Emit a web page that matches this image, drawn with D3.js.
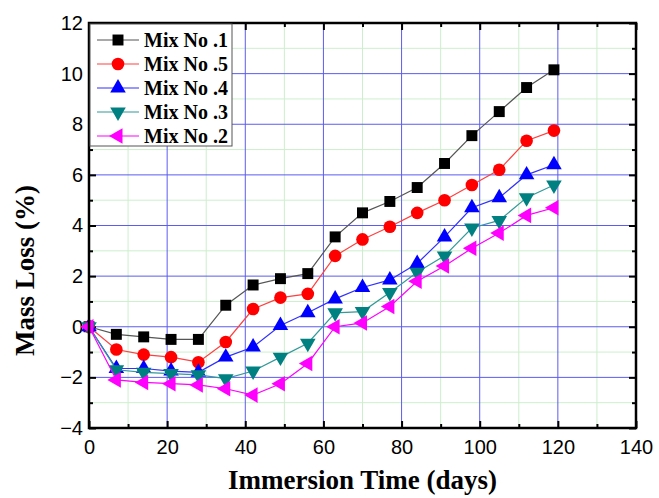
<!DOCTYPE html>
<html>
<head>
<meta charset="utf-8">
<script src="https://cdn.jsdelivr.net/npm/d3@7"></script>
<style>
  body { margin: 0; background: #fff; }
  .tick-label { font-family: "Liberation Sans", Arial, sans-serif; font-size: 20px; }
  .title { font-family: "Liberation Serif", "Times New Roman", serif; font-weight: bold; font-size: 27px; }
  .leg { font-family: "Liberation Serif", "Times New Roman", serif; font-weight: bold; font-size: 20px; }
</style>
</head>
<body>
<svg id="chart"></svg>
<script>
  // immersion days
  var days = [0, 7, 14, 21, 28, 35, 42, 49, 56, 63, 70, 77, 84, 91, 98, 105, 112, 119];
  var mix1 = [0, -0.3, -0.4, -0.5, -0.5, 0.85, 1.65, 1.9, 2.1, 3.55, 4.5, 4.95, 5.5, 6.45, 7.55, 8.5, 9.45, 10.15];
  var mix5 = [0, -0.9, -1.1, -1.2, -1.4, -0.6, 0.7, 1.15, 1.3, 2.8, 3.45, 3.95, 4.5, 5.0, 5.6, 6.2, 7.35, 7.75];
  var mix4 = [0, -1.65, -1.65, -1.75, -1.8, -1.2, -0.8, 0.05, 0.55, 1.1, 1.55, 1.85, 2.5, 3.55, 4.7, 5.1, 6.0, 6.4];
  var mix3 = [0, -1.7, -1.8, -1.85, -1.9, -2.05, -1.75, -1.2, -0.65, 0.55, 0.6, 1.35, 2.15, 2.8, 3.9, 4.2, 5.1, 5.6];
  var mix2 = [0, -2.1, -2.2, -2.25, -2.3, -2.45, -2.7, -2.25, -1.45, 0.0, 0.15, 0.8, 1.8, 2.4, 3.1, 3.7, 4.4, 4.7];

  var names = ['Mix No .1', 'Mix No .5', 'Mix No .4', 'Mix No .3', 'Mix No .2'];
  var xTicks = [0, 20, 40, 60, 80, 100, 120, 140];
  var yTicks = [-4, -2, 0, 2, 4, 6, 8, 10, 12];

  var series = [
    { name: names[0], vals: mix1, color: '#000000', line: '#555555', shape: 'square' },
    { name: names[1], vals: mix5, color: '#ff0000', line: '#ff4040', shape: 'circle' },
    { name: names[2], vals: mix4, color: '#0000ff', line: '#3030ff', shape: 'up' },
    { name: names[3], vals: mix3, color: '#008080', line: '#339999', shape: 'down' },
    { name: names[4], vals: mix2, color: '#ff00ff', line: '#ff00ff', shape: 'left' }
  ];

  var margin = { top: 23, right: 23, bottom: 70, left: 89 };
  var W = 659, H = 498;
  var width = W - margin.left - margin.right,
    height = H - margin.top - margin.bottom;

  var x = d3.scaleLinear().domain([0, 140]).range([0, width]);
  var y = d3.scaleLinear().domain([-4, 12]).range([height, 0]);

  var svg = d3.select('#chart').attr('width', W).attr('height', H)
    .append('g')
    .attr('transform', 'translate(' + margin.left + ',' + margin.top + ')');

  var minorX = d3.range(10, 140, 20), minorY = d3.range(-3, 12, 2);

  // minor grid
  svg.append('g').selectAll('line')
    .data(minorX)
    .enter().append('line')
    .attr('x1', d => x(d)).attr('x2', d => x(d))
    .attr('y1', 0).attr('y2', height)
    .attr('stroke', '#cdeecd').attr('stroke-width', 1);
  svg.append('g').selectAll('line')
    .data(minorY)
    .enter().append('line')
    .attr('y1', d => y(d)).attr('y2', d => y(d))
    .attr('x1', 0).attr('x2', width)
    .attr('stroke', '#cdeecd').attr('stroke-width', 1);

  // major grid
  svg.append('g').selectAll('line')
    .data(xTicks.slice(1, -1))
    .enter().append('line')
    .attr('x1', d => x(d)).attr('x2', d => x(d))
    .attr('y1', 0).attr('y2', height)
    .attr('stroke', '#5c5cf0').attr('stroke-width', 1);
  svg.append('g').selectAll('line')
    .data(yTicks.slice(1, -1))
    .enter().append('line')
    .attr('y1', d => y(d)).attr('y2', d => y(d))
    .attr('x1', 0).attr('x2', width)
    .attr('stroke', '#5c5cf0').attr('stroke-width', 1);

  // axes, ticks pointing inward on all four sides
  function styleAxis(g) {
    g.select('.domain').remove();
    g.selectAll('.tick line').attr('stroke', '#000').attr('stroke-width', 2);
  }

  svg.append('g').attr('transform', 'translate(0,' + height + ')')
    .call(d3.axisBottom(x).tickValues(xTicks).tickSize(-7).tickPadding(12))
    .call(styleAxis)
    .selectAll('text').attr('class', 'tick-label').attr('fill', '#000');
  svg.append('g').attr('transform', 'translate(0,' + height + ')')
    .call(d3.axisBottom(x).tickValues(minorX).tickSize(-4).tickFormat(''))
    .call(styleAxis);
  svg.append('g')
    .call(d3.axisTop(x).tickValues(xTicks).tickSize(-7).tickFormat(''))
    .call(styleAxis);
  svg.append('g')
    .call(d3.axisTop(x).tickValues(minorX).tickSize(-4).tickFormat(''))
    .call(styleAxis);

  svg.append('g')
    .call(d3.axisLeft(y).tickValues(yTicks).tickSize(-7).tickPadding(6))
    .call(styleAxis)
    .selectAll('text').attr('class', 'tick-label').attr('fill', '#000');
  svg.append('g')
    .call(d3.axisLeft(y).tickValues(minorY).tickSize(-4).tickFormat(''))
    .call(styleAxis);
  svg.append('g').attr('transform', 'translate(' + width + ',0)')
    .call(d3.axisRight(y).tickValues(yTicks).tickSize(-7).tickFormat(''))
    .call(styleAxis);
  svg.append('g').attr('transform', 'translate(' + width + ',0)')
    .call(d3.axisRight(y).tickValues(minorY).tickSize(-4).tickFormat(''))
    .call(styleAxis);

  // markers
  function symbolFor(shape) {
    if (shape === 'square') return d3.symbol().type(d3.symbolSquare).size(120)();
    if (shape === 'circle') return d3.symbol().type(d3.symbolCircle).size(125)();
    return d3.symbol().type(d3.symbolTriangle).size(105)();
  }
  function rotFor(shape) {
    if (shape === 'down') return 180;
    if (shape === 'left') return -90;
    return 0;
  }

  var line = d3.line().x(d => x(d[0])).y(d => y(d[1]));

  series.forEach(function (s) {
    var pts = days.map((d, i) => [d, s.vals[i]]);
    svg.append('path')
      .datum(pts)
      .attr('d', line)
      .attr('fill', 'none')
      .attr('stroke', s.line)
      .attr('stroke-width', 1.2);
    svg.append('g').selectAll('path')
      .data(pts)
      .enter().append('path')
      .attr('d', symbolFor(s.shape))
      .attr('transform', d => 'translate(' + x(d[0]) + ',' + y(d[1]) + ') rotate(' + rotFor(s.shape) + ')')
      .attr('fill', s.color);
  });

  // frame
  svg.append('rect')
    .attr('x', 0).attr('y', 0).attr('width', width).attr('height', height)
    .attr('fill', 'none').attr('stroke', '#000').attr('stroke-width', 2.5);

  // legend
  var leg = svg.append('g');
  leg.append('rect')
    .attr('x', 1).attr('y', 1).attr('width', 142).attr('height', 122)
    .attr('fill', '#fff').attr('stroke', '#555').attr('stroke-width', 1);
  series.forEach(function (s, i) {
    var ly = 17 + i * 24;
    leg.append('line')
      .attr('x1', 8).attr('x2', 50).attr('y1', ly).attr('y2', ly)
      .attr('stroke', s.line).attr('stroke-width', 1.2);
    leg.append('path')
      .attr('d', symbolFor(s.shape))
      .attr('transform', 'translate(29,' + ly + ') rotate(' + rotFor(s.shape) + ')')
      .attr('fill', s.color);
    leg.append('text')
      .attr('class', 'leg')
      .attr('x', 55).attr('y', ly).attr('dy', '0.35em')
      .text(s.name);
  });

  // axis titles
  svg.append('text')
    .attr('class', 'title')
    .attr('text-anchor', 'middle')
    .attr('x', width / 2).attr('y', height + 61)
    .text('Immersion Time (days)');
  svg.append('text')
    .attr('class', 'title')
    .attr('text-anchor', 'middle')
    .attr('transform', 'translate(-55,' + (height / 2 + 45) + ') rotate(-90)')
    .text('Mass Loss (%)');
</script>
</body>
</html>
